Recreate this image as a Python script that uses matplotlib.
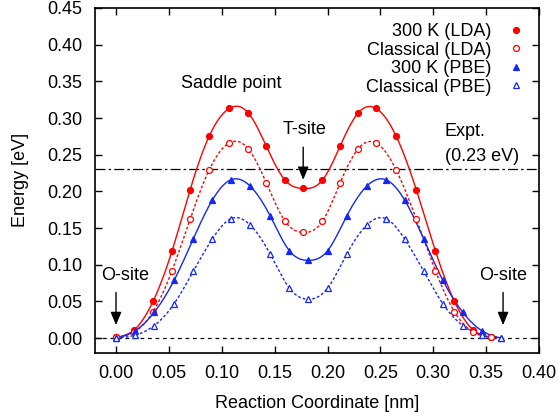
import matplotlib
matplotlib.use('Agg')
import matplotlib.pyplot as plt
import numpy as np

plt.rcParams['font.family'] = ['Liberation Sans', 'DejaVu Sans']
plt.rcParams['font.size'] = 13

# reaction coordinate of each image along the path [nm]
x_lda = [0.000, 0.017, 0.035, 0.053, 0.070, 0.088, 0.107, 0.125, 0.142, 0.160, 0.177,
         0.195, 0.212, 0.229, 0.246, 0.265, 0.284, 0.302, 0.320, 0.338, 0.355]
x_pbe = [0.000, 0.018, 0.036, 0.055, 0.073, 0.091, 0.109, 0.127, 0.146, 0.164, 0.182,
         0.200, 0.218, 0.237, 0.255, 0.273, 0.291, 0.309, 0.328, 0.346, 0.364]

# energies [eV]
e_lda_300k = [0.001, 0.011, 0.050, 0.119, 0.202, 0.275, 0.313, 0.307, 0.262, 0.215, 0.204,
              0.215, 0.262, 0.307, 0.313, 0.275, 0.202, 0.119, 0.050, 0.011, 0.001]
e_lda_cl = [0.001, 0.008, 0.036, 0.092, 0.162, 0.229, 0.266, 0.258, 0.212, 0.159, 0.144,
            0.159, 0.212, 0.258, 0.266, 0.229, 0.162, 0.092, 0.036, 0.008, 0.001]
e_pbe_300k = [0.000, 0.010, 0.035, 0.079, 0.135, 0.188, 0.216, 0.207, 0.166, 0.119, 0.106,
              0.119, 0.166, 0.207, 0.216, 0.188, 0.135, 0.079, 0.035, 0.010, 0.000]
e_pbe_cl = [0.000, 0.004, 0.017, 0.047, 0.091, 0.135, 0.163, 0.154, 0.114, 0.068, 0.053,
            0.068, 0.114, 0.154, 0.163, 0.135, 0.091, 0.047, 0.017, 0.004, 0.000]

e_expt = 0.23

x_ticks = [0.00, 0.05, 0.10, 0.15, 0.20, 0.25, 0.30, 0.35, 0.40]
y_ticks = [0.00, 0.05, 0.10, 0.15, 0.20, 0.25, 0.30, 0.35, 0.40, 0.45]

RED = '#ff0000'
BLUE = '#1428f0'


def natural_spline(x, y, n=400):
    # natural cubic spline through the points, like gnuplot's csplines
    x = np.asarray(x, float)
    y = np.asarray(y, float)
    k = len(x)
    h = np.diff(x)
    A = np.zeros((k, k))
    b = np.zeros(k)
    A[0, 0] = A[-1, -1] = 1.0
    for i in range(1, k - 1):
        A[i, i - 1] = h[i - 1]
        A[i, i] = 2 * (h[i - 1] + h[i])
        A[i, i + 1] = h[i]
        b[i] = 3 * ((y[i + 1] - y[i]) / h[i] - (y[i] - y[i - 1]) / h[i - 1])
    c = np.linalg.solve(A, b)
    xs = np.linspace(x[0], x[-1], n)
    idx = np.clip(np.searchsorted(x, xs) - 1, 0, k - 2)
    dx = xs - x[idx]
    hi = h[idx]
    bi = (y[idx + 1] - y[idx]) / hi - hi * (2 * c[idx] + c[idx + 1]) / 3
    di = (c[idx + 1] - c[idx]) / (3 * hi)
    ys = y[idx] + bi * dx + c[idx] * dx ** 2 + di * dx ** 3
    return xs, ys


fig, ax = plt.subplots(figsize=(5.58, 4.20), dpi=100)
fig.subplots_adjust(left=0.170, right=0.966, top=0.981, bottom=0.160)

ax.axhline(0.0, color='black', lw=0.9, ls=(0, (3, 3)), zorder=1)
ax.axhline(e_expt, color='black', lw=0.9, ls=(0, (8, 2.5, 2, 2.5)), zorder=1)

series = [
    (x_lda, e_lda_300k, RED, '-', 'o', RED, '300 K (LDA)'),
    (x_lda, e_lda_cl, RED, (0, (2, 1.5)), 'o', 'white', 'Classical (LDA)'),
    (x_pbe, e_pbe_300k, BLUE, '-', '^', BLUE, '300 K (PBE)'),
    (x_pbe, e_pbe_cl, BLUE, (0, (2, 1.5)), '^', 'white', 'Classical (PBE)'),
]
for xv, yv, col, ls, mk, face, lab in series:
    xs, ys = natural_spline(xv, yv)
    ax.plot(xs, ys, color=col, ls=ls, lw=1.0, zorder=2)
    ax.plot(xv, yv, ls='none', marker=mk, ms=4.3, mfc=face, mec=col, mew=0.9,
            label=lab, zorder=3)

ax.legend(loc='upper right', bbox_to_anchor=(1.0, 1.0), frameon=False, markerfirst=False,
          handlelength=0.8, handletextpad=1.0, labelspacing=0.08, borderaxespad=0.45)

# site labels and arrows
arrow = dict(arrowstyle='-|>,head_length=0.6,head_width=0.25', color='black', lw=1.0)
ax.text(0.1085, 0.3475, 'Saddle point', ha='center', va='center')
ax.text(0.178, 0.284, 'T-site', ha='center', va='center')
ax.annotate('', xy=(0.177, 0.212), xytext=(0.177, 0.264), arrowprops=arrow)
ax.text(-0.014, 0.086, 'O-site', ha='left', va='center')
ax.annotate('', xy=(0.0, 0.014), xytext=(0.0, 0.066), arrowprops=arrow)
ax.text(0.366, 0.086, 'O-site', ha='center', va='center')
ax.annotate('', xy=(0.366, 0.014), xytext=(0.366, 0.066), arrowprops=arrow)
ax.text(0.311, 0.281, 'Expt.', ha='left', va='center')
ax.text(0.311, 0.247, '(0.23 eV)', ha='left', va='center')

ax.set_xlim(-0.02, 0.40)
ax.set_ylim(-0.02, 0.45)
ax.set_xticks(x_ticks)
ax.set_yticks(y_ticks)
ax.set_xticklabels([f'{t:.2f}' for t in x_ticks])
ax.set_yticklabels([f'{t:.2f}' for t in y_ticks])
ax.tick_params(direction='in', length=5, width=1.0, top=True, right=True, pad=9)
for s in ax.spines.values():
    s.set_linewidth(1.2)

ax.set_xlabel('Reaction Coordinate [nm]', labelpad=9)
ax.set_ylabel('Energy [eV]', labelpad=13)

plt.savefig('out.png', dpi=100)
